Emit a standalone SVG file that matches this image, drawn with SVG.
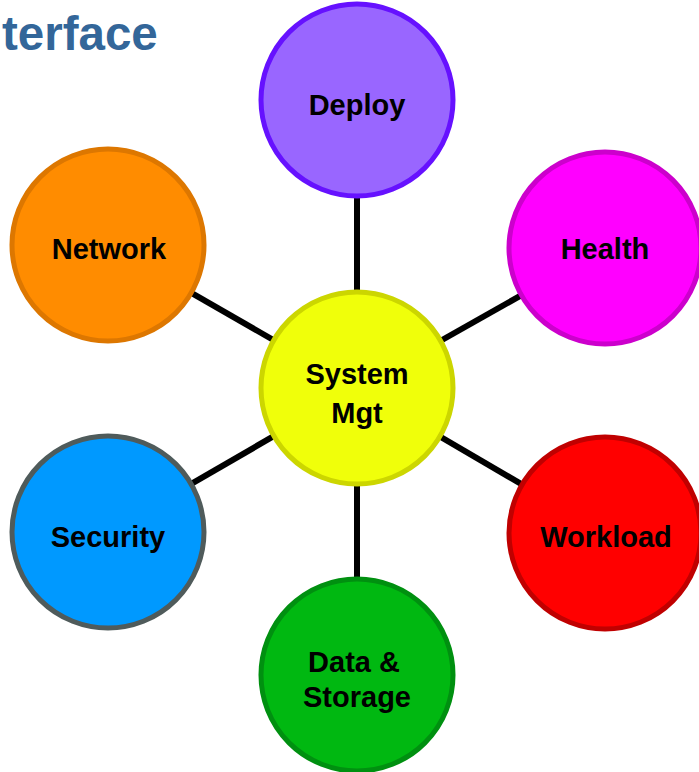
<svg xmlns="http://www.w3.org/2000/svg" width="699" height="772" viewBox="0 0 699 772">
<style>
.n{stroke-width:5}
.t{font-family:"Liberation Sans",Arial,sans-serif;font-weight:bold;font-size:29px;fill:#000;text-anchor:middle}
.c{stroke:#000;stroke-width:6}
</style>
<rect width="699" height="772" fill="#fff"/>
<text x="2" y="50" style="font-family:'Liberation Sans',Arial,sans-serif;font-weight:bold;font-size:47.5px;fill:#336699">terface</text>
<g id="connectors">
<line class="c" x1="357" y1="388" x2="357" y2="100"/>
<line class="c" x1="357" y1="388" x2="605" y2="248"/>
<line class="c" x1="357" y1="388" x2="605" y2="533"/>
<line class="c" x1="357" y1="388" x2="357" y2="675"/>
<line class="c" x1="357" y1="388" x2="108" y2="532"/>
<line class="c" x1="357" y1="388" x2="108" y2="245"/>
</g>
<g id="deploy"><circle class="n" cx="357" cy="100" r="96" fill="#9966FF" stroke="#6611FF"/><text class="t" x="357" y="115">Deploy</text></g>
<g id="health"><circle class="n" cx="605" cy="248" r="96" fill="#FF00FF" stroke="#CC00CC"/><text class="t" x="605" y="259">Health</text></g>
<g id="workload"><circle class="n" cx="605" cy="533" r="96" fill="#FF0000" stroke="#C00000"/><text class="t" x="606" y="547">Workload</text></g>
<g id="data-storage"><circle class="n" cx="357" cy="675" r="96" fill="#00B811" stroke="#009010"/><text class="t" x="354" y="672">Data &amp;</text><text class="t" x="357" y="707">Storage</text></g>
<g id="security"><circle class="n" cx="108" cy="532" r="96" fill="#0099FF" stroke="#4F5B5B"/><text class="t" x="108" y="547">Security</text></g>
<g id="network"><circle class="n" cx="108" cy="245" r="96" fill="#FF8C00" stroke="#DD7700"/><text class="t" x="109" y="259">Network</text></g>
<g id="system-mgt"><circle class="n" cx="357" cy="388" r="96" fill="#F0FF0A" stroke="#CCD600"/><text class="t" x="357" y="384">System</text><text class="t" x="357" y="423">Mgt</text></g>
</svg>
